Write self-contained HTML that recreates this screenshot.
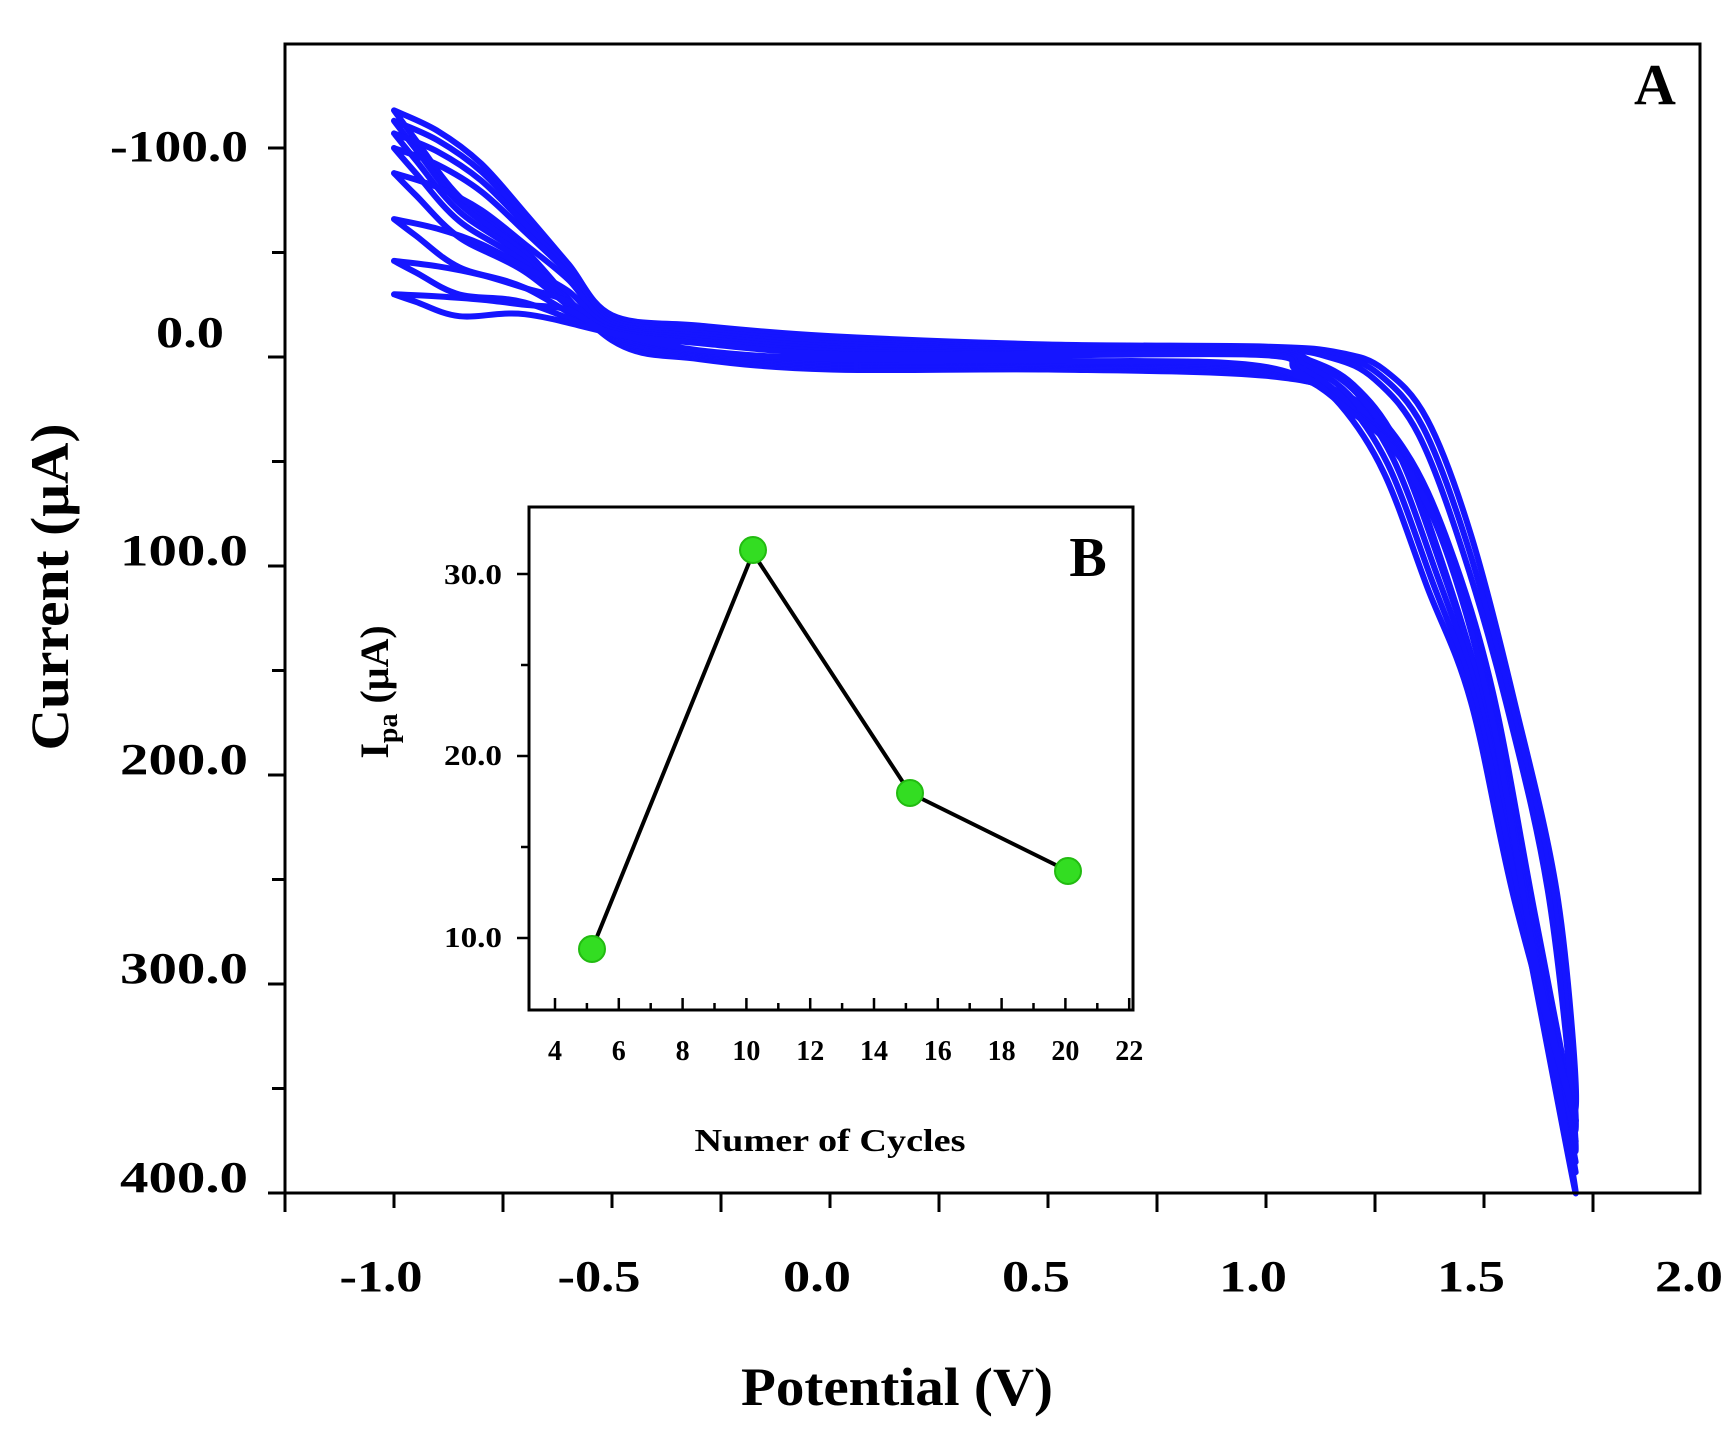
<!DOCTYPE html>
<html><head><meta charset="utf-8"><style>
body{margin:0;background:#fff;}
svg{display:block;font-family:"Liberation Serif",serif;font-weight:bold;}
</style></head><body>
<svg id="s" width="1736" height="1437" viewBox="0 0 1736 1437" xmlns="http://www.w3.org/2000/svg">
<rect x="0" y="0" width="1736" height="1437" fill="#fff"/>
<g id="cv" fill="none" stroke="#1515ff" stroke-width="6" stroke-linejoin="round" stroke-linecap="round"></g>
<rect x="285" y="44" width="1415" height="1149" fill="none" stroke="#000" stroke-width="3"/>
<g id="ticks" stroke="#000" stroke-width="3"></g>
<g font-size="44" text-anchor="end" fill="#000" lengthAdjust="spacingAndGlyphs">
<text x="248" y="161" textLength="138" lengthAdjust="spacingAndGlyphs">-100.0</text>
<text x="224" y="347" textLength="68" lengthAdjust="spacingAndGlyphs">0.0</text>
<text x="248" y="565" textLength="128" lengthAdjust="spacingAndGlyphs">100.0</text>
<text x="248" y="774" textLength="128" lengthAdjust="spacingAndGlyphs">200.0</text>
<text x="248" y="983" textLength="128" lengthAdjust="spacingAndGlyphs">300.0</text>
<text x="248" y="1192" textLength="128" lengthAdjust="spacingAndGlyphs">400.0</text>
</g>
<g font-size="44" text-anchor="middle" fill="#000">
<text x="381" y="1291" textLength="83" lengthAdjust="spacingAndGlyphs">-1.0</text>
<text x="599" y="1291" textLength="83" lengthAdjust="spacingAndGlyphs">-0.5</text>
<text x="817" y="1291" textLength="68" lengthAdjust="spacingAndGlyphs">0.0</text>
<text x="1036" y="1291" textLength="68" lengthAdjust="spacingAndGlyphs">0.5</text>
<text x="1253" y="1291" textLength="68" lengthAdjust="spacingAndGlyphs">1.0</text>
<text x="1471" y="1291" textLength="68" lengthAdjust="spacingAndGlyphs">1.5</text>
<text x="1689" y="1291" textLength="68" lengthAdjust="spacingAndGlyphs">2.0</text>
<text x="897" y="1405" font-size="54" textLength="312" lengthAdjust="spacingAndGlyphs">Potential (V)</text>
<text transform="translate(68,587) rotate(-90)" font-size="54" textLength="327" lengthAdjust="spacingAndGlyphs">Current (μA)</text>
<text x="1655" y="104" font-size="58">A</text>
</g>
<rect x="529" y="507" width="604" height="503" fill="#fff" stroke="#000" stroke-width="3"/>
<g id="iticks" stroke="#000" stroke-width="2.5"></g>
<g font-size="28" fill="#000">
<g text-anchor="end">
<text x="502" y="584" textLength="58" lengthAdjust="spacingAndGlyphs">30.0</text>
<text x="502" y="765" textLength="58" lengthAdjust="spacingAndGlyphs">20.0</text>
<text x="502" y="947" textLength="58" lengthAdjust="spacingAndGlyphs">10.0</text>
</g>
<g text-anchor="middle" id="ixl"></g>
<text x="830" y="1151" text-anchor="middle" font-size="32" textLength="271" lengthAdjust="spacingAndGlyphs">Numer of Cycles</text>
<text transform="translate(388,692) rotate(-90)" text-anchor="middle" font-size="40">I<tspan font-size="28" dy="9">pa</tspan><tspan dy="-9"> (μA)</tspan></text>
<text x="1088" y="576" text-anchor="middle" font-size="56">B</text>
</g>
<polyline points="592,949 753,553 910,793 1068,871" fill="none" stroke="#000" stroke-width="4"/>
<g fill="#33dd22" stroke="#22bb11" stroke-width="2">
<circle cx="592" cy="949" r="13"/><circle cx="753" cy="550" r="13"/><circle cx="910" cy="793" r="13"/><circle cx="1068" cy="871" r="13"/>
</g>
</svg>
<script>
var NS="http://www.w3.org/2000/svg";
function px(V){return 285+(V+1.25)*436;}
function py(I){return 357+I*2.09;}
function cr(pts){var d="M"+pts[0][0].toFixed(1)+","+pts[0][1].toFixed(1);
for(var i=0;i<pts.length-1;i++){var p0=pts[i-1]||pts[i],p1=pts[i],p2=pts[i+1],p3=pts[i+2]||p2;
d+=" C"+(p1[0]+(p2[0]-p0[0])/6).toFixed(1)+","+(p1[1]+(p2[1]-p0[1])/6).toFixed(1)+" "+(p2[0]-(p3[0]-p1[0])/6).toFixed(1)+","+(p2[1]-(p3[1]-p1[1])/6).toFixed(1)+" "+p2[0].toFixed(1)+","+p2[1].toFixed(1);}
return d;}
var cv=document.getElementById("cv");
var tops=[-118,-113,-107,-100,-88,-66,-46,-30];
var dxs=[0.07,0.06,0.05,0.0,0.0,-0.01,-0.02,-0.03];
var ends=[360,370,380,390,385,375,400,365];
tops.forEach(function(T,k){var dx=dxs[k],E=ends[k],o=k*1.2;
function w(f){return -20+(T+20)*f;}
var up=[[-1,T],[-0.9,w(0.9)],[-0.8,w(0.74)],[-0.7,w(0.5)],[-0.6,w(0.25)],[-0.5,-20+o],[-0.3,-15+o],[0,-10+o],[0.5,-6+o*0.6],[1.0,-5+o*0.5],[1.1+dx,-2+o],[1.2+dx,6+o*2],[1.3+dx,30+o*3],[1.4+dx,85+o*3],[1.5+dx,165],[1.6+dx,260],[1.71,E]];
var dn=[[1.71,E],[1.62,270+k*3],[1.52,160+k*2],[1.42,90+k],[1.32,45+k],[1.2,20+k],[1.0,9-o*0.5],[0.5,6-o*0.5],[0,6-o*0.6],[-0.3,1-o*0.5],[-0.5,-8-o*0.4],[-0.7,-10+T*0.35],[-0.85,T*0.65],[-0.95,T*0.88],[-1,T]];
var all=up.concat(dn.slice(1)).map(function(p){return [px(p[0]),py(p[1])];});
var e=document.createElementNS(NS,"path");e.setAttribute("d",cr(all));cv.appendChild(e);});
var t=document.getElementById("ticks"),h="";
for(var i=0;i<=12;i++){var x=285+i*109;h+='<line x1="'+x+'" y1="1193" x2="'+x+'" y2="'+(i%2?1208:1212)+'"/>';}
for(var j=0;j<=11;j++){var y=1193-j*104.5;if(y<44)break;h+='<line x1="285" y1="'+y+'" x2="'+(j%2?272:268)+'" y2="'+y+'"/>';}
t.innerHTML=h;
var it=document.getElementById("iticks"),g="",xl="";
for(var n=4;n<=22;n++){var x=555+(n-4)*31.9;g+='<line x1="'+x+'" y1="1010" x2="'+x+'" y2="'+(n%2?1003:998)+'"/>';if(n%2==0)xl+='<text x="'+x+'" y="1060">'+n+'</text>';}
for(var v=10;v<=30;v+=5){var y=938-(v-10)*18.2;g+='<line x1="529" y1="'+y+'" x2="'+(v%10?521:517)+'" y2="'+y+'"/>';}
it.innerHTML=g;document.getElementById("ixl").innerHTML=xl;
</script>
</body></html>
